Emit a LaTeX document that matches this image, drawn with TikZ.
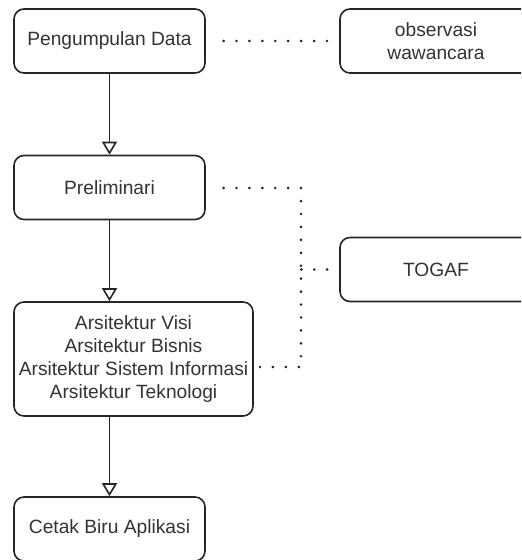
\documentclass[tikz,border=0pt]{standalone}
\usepackage{fontspec}
\setmainfont{Liberation Sans}
\usepackage{tikz}
\usetikzlibrary{positioning,arrows.meta}
\tikzset{
  box/.style={rectangle, rounded corners=7.5pt, draw=black!85, line width=1.2pt, fill=white, text=black!80, font=\fontsize{14.4}{17.4}\selectfont, align=center, minimum width=143.25pt, minimum height=48pt, inner sep=0pt},
  widebox/.style={box, minimum width=179.25pt, minimum height=85.5pt},
  flow/.style={draw=black!85, line width=1.2pt, -{Triangle[open, length=9.75pt, width=11.25pt]}},
  dots/.style={draw=black!85, line width=2.2pt, line cap=round, dash pattern=on 0pt off 9.7pt}
}
\begin{document}
\begin{tikzpicture}[x=0.75pt, y=-0.75pt]
  \useasboundingbox (0,0) rectangle (521,560);
  \clip (0,0) rectangle (521,560);
  \node[box] (pd) at (109.5,41) {Pengumpulan Data};
  \node[box, minimum width=144pt] (obs) at (436,41) {observasi\\wawancara};
  \node[box] (pre) at (109.5,187.5) {Preliminari};
  \node[box, minimum width=144pt] (togaf) at (436,269.5) {TOGAF};
  \node[widebox] (ars) at (133.5,359) {Arsitektur Visi\\Arsitektur Bisnis\\Arsitektur Sistem Informasi\\Arsitektur Teknologi};
  \node[box] (cbp) at (109.5,529) {Cetak Biru Aplikasi};
  \coordinate (cr) at (301,188);
  \coordinate (cb) at (301,367);
  % arrows
  \draw[flow] (pd) -- (pre);
  \draw[flow] (pre.south) -- (pre.south |- ars.north);
  \draw[flow] (cbp.north |- ars.south) -- (cbp.north);
  % dotted links
  \draw[dots, shorten <=13.3pt] (pd.east) -- (obs.west);
  \draw[dots, shorten <=13.3pt] (pre.east |- cr) -- (cr) -- (cb) -- (ars.east |- cb);
  \draw[dots, shorten <=9pt] (togaf.west) -- (togaf.west -| cb);
\end{tikzpicture}
\end{document}
